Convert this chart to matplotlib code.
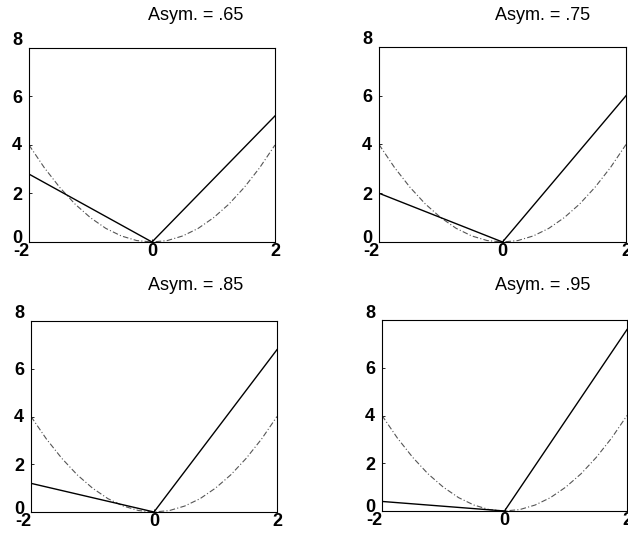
import matplotlib as mpl
mpl.use('Agg')
import matplotlib.pyplot as plt
from matplotlib.transforms import ScaledTranslation

plt.rcParams['axes.unicode_minus'] = False

# data
titles = ['Asym. = .65', 'Asym. = .75', 'Asym. = .85', 'Asym. = .95']
v_x = [-2, 0, 2]
v_left = [2.8, 2.0, 1.2, 0.4]    # value of the solid line at x = -2
v_right = [5.2, 6.0, 6.8, 7.6]   # value of the solid line at x = 2
parab_x = [-2.0, -1.75, -1.5, -1.25, -1.0, -0.75, -0.5, -0.25, 0.0,
           0.25, 0.5, 0.75, 1.0, 1.25, 1.5, 1.75, 2.0]
parab_y = [4.0, 3.06, 2.25, 1.56, 1.0, 0.56, 0.25, 0.06, 0.0,
           0.06, 0.25, 0.56, 1.0, 1.56, 2.25, 3.06, 4.0]

W, H = 628, 533
fig = plt.figure(figsize=(W / 100, H / 100), dpi=100)

# axes boxes in pixels: left, right, top, bottom
boxes = [(29, 275, 48, 242), (379, 626, 47, 242),
         (31, 277, 321, 512), (382, 627, 320, 511)]
title_y = [15, 15, 285, 285]
title_x = [196, 543, 196, 543]

def shift(dx, dy):
    return ScaledTranslation(dx / 100, dy / 100, fig.dpi_scale_trans)

ylab_shift = [5, 0, 1, 0, 9]   # scanned labels sit a bit high

for i, (l, r, t, b) in enumerate(boxes):
    ax = fig.add_axes([l / W, 1 - b / H, (r - l) / W, (b - t) / H])
    ax.plot(parab_x, parab_y, color='#555555', lw=0.8,
            linestyle=(0, (5, 2, 1, 2)))
    ax.plot(v_x, [v_left[i], 0, v_right[i]], color='black', lw=1.0)
    ax.set_xlim(-2, 2)
    ax.set_ylim(0, 8)
    ax.set_xticks([-2, 0, 2])
    ax.set_yticks([0, 2, 4, 6, 8])
    ax.tick_params(direction='in', length=2, width=0.6, labelsize=13)
    ax.tick_params(axis='y', pad=5)
    ax.tick_params(axis='x', pad=1)
    for lab in ax.get_xticklabels() + ax.get_yticklabels():
        lab.set_fontweight('bold')
        lab.set_family('Liberation Sans')
    for lab, dy in zip(ax.get_yticklabels(), ylab_shift):
        lab.set_transform(lab.get_transform() + shift(0, dy))
    xl = ax.get_xticklabels()[0]
    xl.set_transform(xl.get_transform() + shift(-8, 0))
    for s in ax.spines.values():
        s.set_linewidth(0.8)
    fig.text(title_x[i] / W, 1 - title_y[i] / H, titles[i],
             ha='center', va='center', fontsize=13,
             family='Liberation Sans')

plt.savefig('out.png', dpi=100)
plt.close()
